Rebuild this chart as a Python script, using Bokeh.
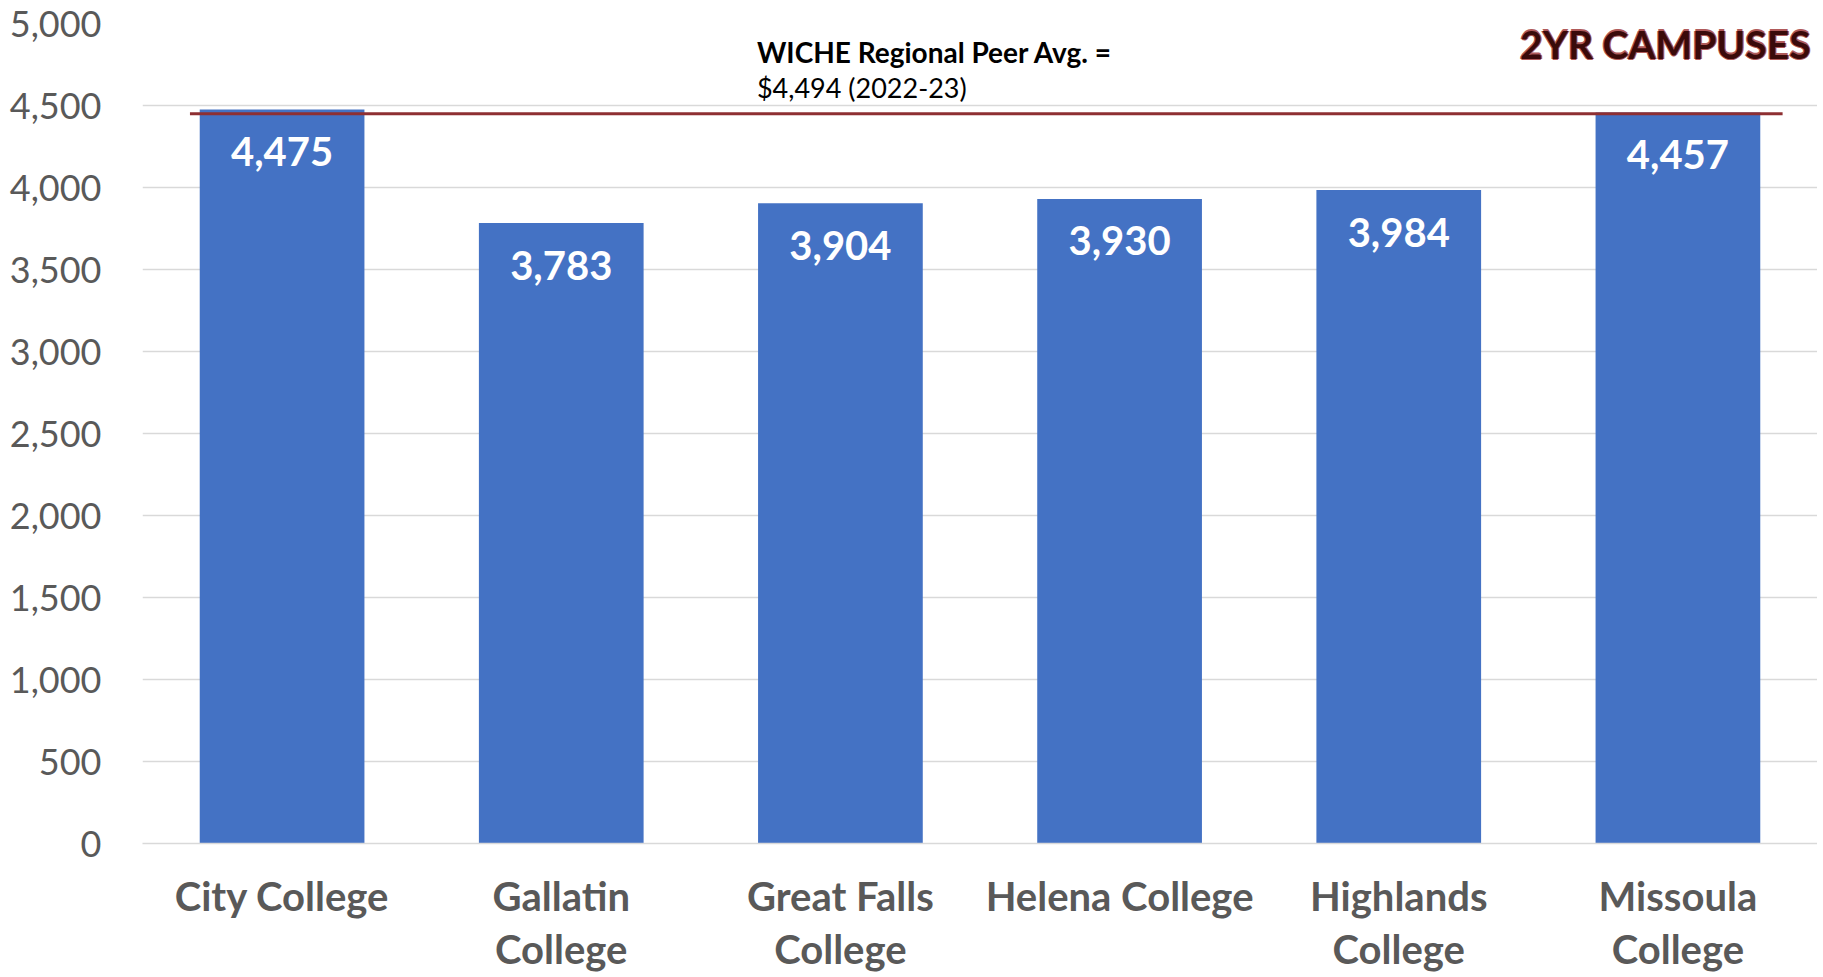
from bokeh.plotting import figure
from bokeh.models import FactorRange, Range1d, NumeralTickFormatter, ColumnDataSource, FixedTicker
from bokeh.core.properties import value
from bokeh.embed import file_html
from bokeh.resources import INLINE

# ---- data ----
categories = ["City College", "Gallatin\nCollege", "Great Falls\nCollege",
              "Helena College", "Highlands\nCollege", "Missoula\nCollege"]
values = [4475, 3783, 3904, 3930, 3984, 4457]
value_labels = ["4,475", "3,783", "3,904", "3,930", "3,984", "4,457"]
peer_avg_line = 4450          # where the reference line is drawn
peer_label_1 = "WICHE Regional Peer Avg. ="
peer_label_2 = "$4,494 (2022-23)"
badge = "2YR CAMPUSES"
y_ticks = list(range(0, 5001, 500))

FONT = "Lato"
GRAY = "#595959"

p = figure(x_range=FactorRange(*categories, range_padding=0),
           y_range=Range1d(0, 5000),
           width=1817, height=977, output_backend="svg", toolbar_location=None,
           min_border_left=142, min_border_top=23, min_border_right=0,
           min_border_bottom=134)
p.outline_line_color = None
p.background_fill_color = "white"
p.border_fill_color = "white"

src = ColumnDataSource(dict(x=categories, top=values, lab=value_labels))
p.vbar(x="x", top="top", width=0.59, source=src, color="#4472C4", line_color=None)

p.text(x="x", y="top", text="lab", source=src, text_color="white",
       text_font=value(FONT), text_font_style="bold", text_font_size="40px",
       text_align="center", text_baseline="middle", y_offset=42)

# peer average line
p.segment(x0=[0.17], y0=[peer_avg_line], x1=[5.875], y1=[peer_avg_line],
          line_color="#8E2F32", line_width=3)

p.text(x=[2.201], y=[4829], text=[peer_label_1], text_font=value(FONT),
       text_font_style="bold", text_font_size="28px", text_color="black",
       text_align="left", text_baseline="middle")
p.text(x=[2.201], y=[4610], text=[peer_label_2], text_font=value(FONT),
       text_font_size="27px", text_color="black",
       text_align="left", text_baseline="middle")

# badge with soft glow
for dx, dy in [(-1.2, 0), (1.2, 0), (0, -1.2), (0, 1.2)]:
    p.text(x=[5.975], y=[4878], text=[badge], text_font=value(FONT),
           text_font_style="bold", text_font_size="39px", text_color="#B05A5A",
           text_align="right", text_baseline="middle", x_offset=dx, y_offset=dy)
p.text(x=[5.975], y=[4878], text=[badge], text_font=value(FONT),
       text_font_style="bold", text_font_size="39px", text_color="#3A0A0A",
       text_align="right", text_baseline="middle")

# axes / grid
p.xgrid.grid_line_color = None
p.ygrid.grid_line_color = "#D9D9D9"
p.ygrid.grid_line_width = 1.5
p.yaxis.ticker = FixedTicker(ticks=y_ticks)
p.yaxis.formatter = NumeralTickFormatter(format="0,0")
p.yaxis.axis_line_color = None
p.yaxis.major_tick_line_color = None
p.yaxis.minor_tick_line_color = None
p.yaxis.major_label_text_font = FONT
p.yaxis.major_label_text_font_size = "36px"
p.yaxis.major_label_text_color = GRAY
p.yaxis.major_label_standoff = 35

p.xaxis.axis_line_color = "#D9D9D9"
p.xaxis.axis_line_width = 1.5
p.xaxis.major_tick_line_color = None
p.xaxis.minor_tick_line_color = None
p.xaxis.major_label_text_font = FONT
p.xaxis.major_label_text_font_style = "bold"
p.xaxis.major_label_text_font_size = "40px"
p.xaxis.major_label_text_color = GRAY
p.xaxis.major_label_standoff = 22
p.xaxis.major_label_text_line_height = 1.12

open("out.html", "w").write(file_html(p, INLINE))
